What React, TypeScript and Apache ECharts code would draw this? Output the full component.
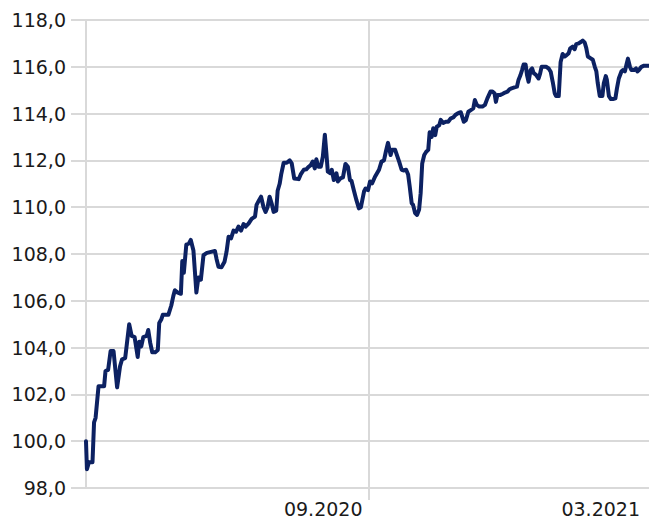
import React, { useEffect, useRef } from "react";
import * as echarts from "echarts";

// Days since 01.03.2020 for each observation
const days: number[] = [
  0, 0.6, 1.9, 4.2, 5.2, 6.2, 8.1, 11.7, 12.6, 14.3, 15.9, 17.8, 20.1, 22.0, 23.3, 25.3, 26.3, 27.9, 29.5, 31.4,
  33.4, 34.4, 35.7, 37.0, 39.2, 40.2, 41.5, 42.8, 44.7, 46.4, 47.3, 48.6, 49.6, 53.2, 55.1, 56.4, 57.4, 59.3, 61.3, 62.2,
  63.2, 64.8, 66.5, 67.7, 69.4, 70.3, 71.3, 72.6, 74.2, 75.9, 78.1, 81.4, 83.3, 84.3, 85.6, 87.5, 89.5, 90.8, 92.1, 93.7,
  95.3, 96.9, 98.5, 100.2, 101.8, 103.1, 105.0, 107.0, 109.2, 110.2, 111.8, 113.1, 114.7, 116.0, 117.3, 118.6, 119.9, 121.2, 122.9, 123.8,
  125.1, 126.1, 127.7, 129.7, 131.6, 132.9, 134.5, 137.4, 138.7, 140.7, 142.3, 143.9, 145.2, 146.5, 147.8, 148.8, 150.1, 151.7, 153.0, 154.3,
  155.3, 156.2, 157.9, 158.8, 160.1, 161.8, 162.7, 164.3, 166.0, 167.6, 169.2, 170.5, 171.5, 173.1, 174.7, 176.3, 177.6, 179.6, 180.6, 182.2,
  183.5, 184.8, 186.7, 189.3, 190.9, 192.5, 193.8, 195.1, 196.8, 197.7, 199.7, 202.3, 203.9, 205.5, 206.8, 208.1, 209.1, 210.4, 211.3, 212.6,
  213.9, 215.2, 216.2, 217.2, 218.5, 219.8, 221.1, 222.0, 223.3, 224.3, 225.6, 226.6, 228.2, 229.2, 230.8, 232.4, 234.0, 235.7, 237.3, 238.6,
  239.9, 241.2, 242.1, 244.1, 245.4, 247.0, 248.6, 250.2, 251.2, 252.5, 254.1, 256.1, 257.7, 259.3, 261.3, 262.6, 263.9, 264.8, 265.8, 267.7,
  269.0, 270.7, 272.3, 273.6, 274.9, 276.8, 278.4, 279.4, 280.7, 281.7, 282.7, 284.0, 284.9, 285.9, 287.2, 288.2, 289.1, 290.8, 292.4, 293.4,
  294.3, 295.6, 297.2, 298.9, 300.2, 301.5, 302.8, 303.7, 305.4, 306.6, 307.9, 309.2, 310.5, 311.8, 312.8, 314.4, 315.7, 316.7, 318.3, 319.9,
  320.9, 322.2, 323.2, 324.2, 325.8, 327.4, 328.7, 329.7, 330.6, 331.9, 333.6, 334.5, 335.8, 336.5, 337.8, 339.1, 340.4, 342.0, 343.0, 344.2,
  345.9, 346.8, 348.1, 349.1, 350.1, 351.4, 352.4, 354.0, 355.3, 356.2, 357.2, 358.8, 360.5, 362.1, 364.3,
];

const values: number[] = [
  100.0, 98.8, 99.1, 99.1, 100.8, 101.0, 102.35, 102.35, 103.0, 103.05, 103.85, 103.85, 102.3, 103.2, 103.5, 103.55, 104.1, 105.0, 104.5, 104.45,
  103.6, 104.25, 104.05, 104.45, 104.5, 104.75, 104.2, 103.8, 103.8, 103.9, 105.05, 105.2, 105.4, 105.4, 105.8, 106.2, 106.45, 106.35, 106.3, 107.7,
  107.2, 108.4, 108.45, 108.6, 108.15, 107.3, 106.35, 107.0, 106.9, 107.95, 108.05, 108.1, 108.13, 107.8, 107.45, 107.43, 107.67, 108.1, 108.74, 108.67,
  109.0, 108.95, 109.17, 109.0, 109.28, 109.17, 109.3, 109.5, 109.6, 110.1, 110.3, 110.45, 110.0, 109.8, 110.0, 110.45, 110.17, 109.8, 109.85, 110.7,
  111.0, 111.4, 111.9, 111.9, 112.0, 111.87, 111.23, 111.2, 111.4, 111.6, 111.62, 111.73, 111.8, 111.95, 111.66, 112.05, 111.73, 111.73, 112.16, 113.1,
  112.3, 111.52, 111.45, 111.6, 111.16, 111.45, 111.1, 111.23, 111.27, 111.85, 111.73, 111.16, 111.13, 110.7, 110.3, 109.95, 110.0, 110.67, 110.8, 110.73,
  111.1, 111.02, 111.3, 111.6, 111.95, 112.0, 112.4, 112.75, 112.23, 112.45, 112.45, 111.95, 111.6, 111.57, 111.6, 111.4, 110.9, 110.17, 110.1, 109.75,
  109.67, 109.9, 110.6, 111.87, 112.23, 112.37, 112.45, 113.2, 113.0, 113.37, 113.08, 113.44, 113.5, 113.73, 113.6, 113.65, 113.65, 113.8, 113.84, 113.94,
  114.0, 114.04, 114.06, 113.65, 113.72, 114.08, 114.15, 114.22, 114.58, 114.37, 114.3, 114.3, 114.37, 114.65, 114.94, 114.94, 114.87, 114.5, 114.8, 114.8,
  114.84, 114.9, 114.94, 115.04, 115.08, 115.12, 115.15, 115.44, 115.65, 115.86, 116.1, 116.1, 115.65, 115.36, 115.86, 115.93, 115.74, 115.65, 115.5, 115.72,
  116.0, 116.0, 116.0, 115.93, 115.79, 115.36, 114.87, 114.75, 114.75, 116.2, 116.55, 116.44, 116.5, 116.58, 116.79, 116.86, 116.75, 116.97, 117.0, 117.07,
  117.12, 117.03, 116.8, 116.44, 116.37, 116.3, 116.0, 115.8, 115.3, 114.75, 114.75, 115.3, 115.6, 115.44, 114.75, 114.62, 114.62, 114.65, 115.08, 115.5,
  115.8, 115.86, 115.8, 116.08, 116.35, 116.0, 115.86, 115.86, 115.93, 115.8, 115.86, 116.0, 116.05, 116.05, 116.05,
];

// x-axis ticks (days since 01.03.2020) and their labels
const xTickDays: number[] = [0, 182.5, 365];
const xTickLabels: string[] = ["", "09.2020", "03.2021"];

const yMin = 98;
const yMax = 118;
const yStep = 2;

const GRID_COLOR = "#d9d9d9";
const LINE_COLOR = "#0c2162";
const FONT = "DejaVu Sans, Verdana, sans-serif";
const FONT_SIZE = 19;

export default function App() {
  const ref = useRef<HTMLDivElement>(null);

  useEffect(() => {
    if (!ref.current) return;
    const chart = echarts.init(ref.current, null, { renderer: "svg" });
    const data = days.map((d, i) => [d, values[i]]);
    chart.setOption({
      animation: false,
      backgroundColor: "#ffffff",
      grid: { left: 86, right: -2, top: 20, bottom: 31, outerBoundsMode: "none" },
      xAxis: {
        type: "value",
        min: xTickDays[0],
        max: xTickDays[xTickDays.length - 1],
        interval: xTickDays[1] - xTickDays[0],
        axisLine: { show: false },
        axisTick: { show: true, length: 12, lineStyle: { color: GRID_COLOR, width: 2 } },
        splitLine: { show: true, lineStyle: { color: GRID_COLOR, width: 2 } },
        axisLabel: {
          show: true,
          margin: 11,
          align: "right",
          fontFamily: FONT,
          fontSize: FONT_SIZE,
          color: "#1a1a1a",
          showMinLabel: false,
          formatter: (v: number) => {
            const idx = xTickDays.findIndex((t) => Math.abs(t - v) < 0.5);
            if (idx <= 0) return "";
            return idx === xTickDays.length - 1 ? `{last|${xTickLabels[idx]}}` : `{mid|${xTickLabels[idx]}}`;
          },
          rich: {
            mid: { fontFamily: FONT, fontSize: FONT_SIZE, color: "#1a1a1a", padding: [0, 6, 0, 0] },
            last: { fontFamily: FONT, fontSize: FONT_SIZE, color: "#1a1a1a", padding: [0, 11, 0, 0] },
          },
        },
      },
      yAxis: {
        type: "value",
        min: yMin,
        max: yMax,
        interval: yStep,
        axisLine: { show: false },
        axisTick: { show: true, length: 15, lineStyle: { color: GRID_COLOR, width: 2 } },
        splitLine: { show: true, lineStyle: { color: GRID_COLOR, width: 2 } },
        axisLabel: {
          margin: 20,
          fontFamily: FONT,
          fontSize: FONT_SIZE,
          color: "#1a1a1a",
          formatter: (v: number) => v.toFixed(1).replace(".", ","),
        },
      },
      series: [
        {
          type: "line",
          data,
          showSymbol: false,
          symbol: "none",
          lineStyle: { color: LINE_COLOR, width: 4, join: "round", cap: "round" },
        },
      ],
    });
    return () => chart.dispose();
  }, []);

  return (
    <div
      ref={ref}
      style={{ position: "fixed", left: 0, top: 0, width: 649, height: 519 }}
    />
  );
}
